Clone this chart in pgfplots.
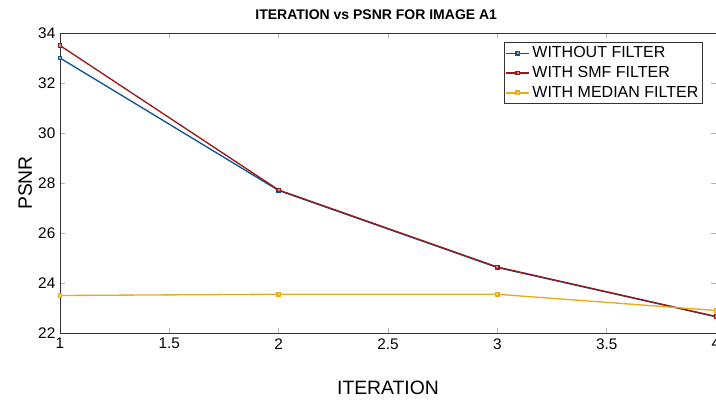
\documentclass[border=0pt]{standalone}
\usepackage{fontspec}
\setmainfont{Liberation Sans}
\usepackage{pgfplots}
\pgfplotsset{compat=1.18}
\definecolor{mblue}{rgb}{0.05,0.33,0.58}
\definecolor{mred}{rgb}{0.60,0.10,0.08}
\definecolor{myel}{rgb}{0.90,0.68,0.10}
\begin{document}
\begin{tikzpicture}
\begin{axis}[
  width=492pt, height=225pt, scale only axis,
  xmin=1, xmax=4, ymin=22, ymax=34,
  xtick={1,1.5,2,2.5,3,3.5,4},
  xticklabels={1,1.5,2,2.5,3,3.5,4},
  ytick={22,24,26,28,30,32,34},
  /pgf/number format/assume math mode=true,
  tick label style={font=\fontsize{11.5}{13}\selectfont},
  xticklabel style={yshift=-0.5pt},
  tick align=inside, tick pos=both,
  major tick length=4pt,
  tick style={gray!60, line width=0.5pt},
  axis line style={black!80, line width=0.7pt},
  title={ITERATION vs PSNR FOR IMAGE A1},
  title style={font=\fontsize{10.5}{12}\selectfont\bfseries, at={(axis description cs:0.482,1)}, anchor=center, yshift=8pt},
  xlabel={ITERATION}, ylabel={PSNR},
  label style={font=\fontsize{14.5}{16}\selectfont},
  xlabel style={at={(axis description cs:0.5,-0.182)}, anchor=center},
  ylabel style={at={(axis description cs:-0.053,0.5)}, anchor=center},
  legend style={at={(axis description cs:1,1)}, anchor=north east, xshift=-10pt, yshift=-7pt, draw=black!80, line width=0.5pt, inner sep=1pt, row sep=1pt, font=\fontsize{12}{14}\selectfont, cells={anchor=west}},
  legend image post style={mark size=1.3pt},
  every axis plot/.append style={line width=1pt},
]
\addplot[mblue, mark=square*, mark size=1.3pt, mark options={fill=mblue!50}] coordinates {(1,33.0) (2,27.7) (3,24.62) (4,22.65)};
\addlegendentry{WITHOUT FILTER}
\addplot[mred, mark=square*, mark size=1.3pt, mark options={fill=mred!50}] coordinates {(1,33.5) (2,27.72) (3,24.64) (4,22.66)};
\addlegendentry{WITH SMF FILTER}
\addplot[myel, mark=square*, mark size=1.3pt, mark options={fill=myel!60}] coordinates {(1,23.5) (2,23.55) (3,23.55) (4,22.9)};
\addlegendentry{WITH MEDIAN FILTER}
\end{axis}
\pgfresetboundingbox
\path[use as bounding box] ([xshift=-45pt,yshift=-55.5pt]current axis.south west) rectangle ([yshift=24.75pt]current axis.north east);
\end{tikzpicture}
\end{document}
